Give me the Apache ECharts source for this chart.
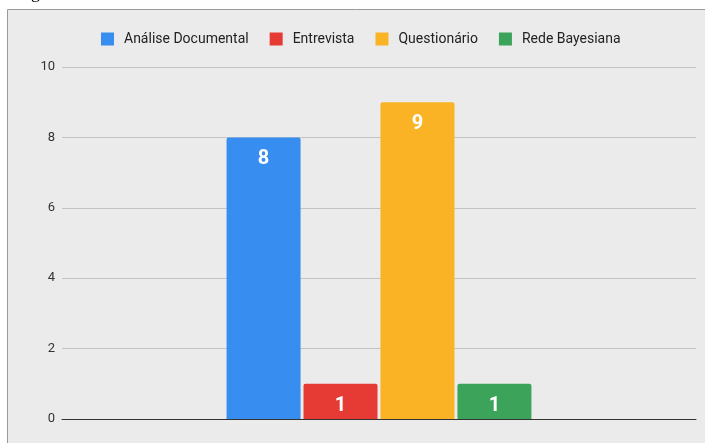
<!DOCTYPE html>
<html>
<head>
<meta charset="utf-8">
<script src="https://cdn.jsdelivr.net/npm/echarts@6/dist/echarts.min.js"></script>
<style>
  html, body { margin: 0; padding: 0; background: #ffffff; }
  #chart { width: 705px; height: 443px; }
</style>
</head>
<body>
<div id="chart"></div>
<script>
// data
var categories = [""];
var seriesNames = ["Análise Documental", "Entrevista", "Questionário", "Rede Bayesiana"];
var seriesValues = [8, 1, 9, 1];
var seriesColors = ["#378df0", "#e63a35", "#fab325", "#3ca45a"];
var yTicks = [0, 2, 4, 6, 8, 10];

var chart = echarts.init(document.getElementById("chart"));

var series = seriesNames.map(function (name, i) {
  return {
    name: name,
    type: "bar",
    data: [seriesValues[i]],
    barWidth: 74,
    barGap: "4%",
    itemStyle: { color: seriesColors[i], borderRadius: [2, 2, 0, 0] },
    label: {
      show: true,
      position: "insideTop",
      distance: 12,
      color: "#ffffff",
      fontFamily: "Roboto",
      fontWeight: "bold",
      fontSize: 20
    }
  };
});

var option = {
  backgroundColor: "#ffffff",
  animation: false,
  graphic: [
    {
      type: "rect",
      z: -10,
      shape: { x: 7.5, y: 9.5, width: 700, height: 440 },
      style: { fill: "#ebebeb", stroke: "#9a9a9a", lineWidth: 1 }
    },
    {
      type: "text",
      left: 31,
      top: -16,
      style: { text: "g", font: "18px 'Liberation Serif'", fill: "#000000" }
    }
  ],
  legend: {
    top: 27,
    left: 96,
    itemWidth: 13,
    itemHeight: 13,
    itemGap: 21,
    icon: "rect",
    textStyle: { fontFamily: "Roboto", fontSize: 14, color: "#222222", padding: [0, 0, 0, 5] },
    data: seriesNames
  },
  grid: { left: 62, right: 9, top: 67, bottom: 24 },
  xAxis: {
    type: "category",
    data: categories,
    axisTick: { show: false },
    axisLabel: { show: false },
    axisLine: { lineStyle: { color: "#333333", width: 1 } }
  },
  yAxis: {
    type: "value",
    min: yTicks[0],
    max: yTicks[yTicks.length - 1],
    interval: 2,
    axisLabel: { margin: 7, fontFamily: "Roboto", fontSize: 13, color: "#333333" },
    splitLine: { lineStyle: { color: "#c4c4c4" } },
    axisLine: { show: false },
    axisTick: { show: false }
  },
  series: series
};

chart.setOption(option);
</script>
</body>
</html>
